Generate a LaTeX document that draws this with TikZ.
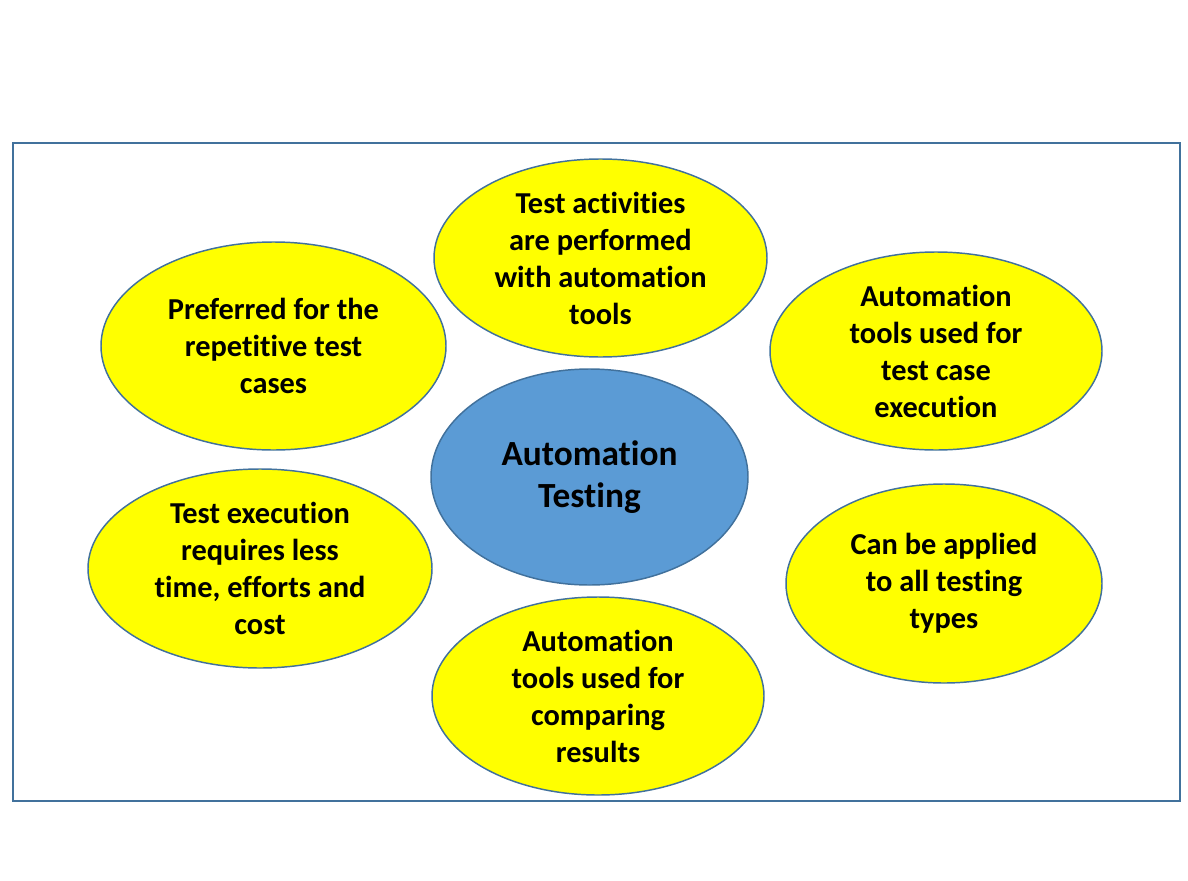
\documentclass[tikz,border=0pt]{standalone}
\usepackage{fontspec}
\setmainfont[Ligatures=NoCommon]{Carlito}
\usetikzlibrary{shapes.geometric}
\definecolor{rand}{RGB}{65,113,156}
\definecolor{gelb}{RGB}{255,255,0}
\definecolor{blau}{RGB}{91,155,213}

\begin{document}
\begin{tikzpicture}[
  x=0.75pt, y=-0.75pt,
  blase/.style={ellipse, draw=rand, line width=1.1pt, fill=gelb,
                inner sep=0pt, align=center,
                font=\fontsize{22.8}{27.75}\selectfont\bfseries},
  kern/.style={blase, fill=blau,
               font=\fontsize{26.5}{31.5}\selectfont\bfseries},
  groesse/.style 2 args={minimum width=#1*0.75pt, minimum height=#2*0.75pt}
]
\useasboundingbox (0,0) rectangle (1188,881);

% ---------- Rahmen ------------------------------------------------
\draw[rand, line width=2.2pt] (13,143) rectangle (1180,801);

% ---------- Mitte -------------------------------------------------
\node[kern, groesse={317}{216}] (mitte) at (589.5,477)
  {Automation\\Testing};

% ---------- Blasen ringsum ----------------------------------------
\node[blase, groesse={333}{198}] (taetig) at (600.5,258)
  {Test activities\\are performed\\with automation\\tools};
\node[blase, groesse={345}{208}] (bevorzugt) at (273.5,346)
  {Preferred for the\\repetitive test\\cases};
\node[blase, groesse={332}{198}] (ausfuehr) at (936,351)
  {Automation\\tools used for\\test case\\execution};
\node[blase, groesse={344}{199}] (aufwand) at (260,568.5)
  {Test execution\\requires less\\time, efforts and\\cost};
\node[blase, groesse={316}{199}] (arten) at (944,583.5)
  {Can be applied\\to all testing\\types};
\node[blase, groesse={332}{198}] (vergleich) at (598,696)
  {Automation\\tools used for\\comparing\\results};

\end{tikzpicture}
\end{document}
